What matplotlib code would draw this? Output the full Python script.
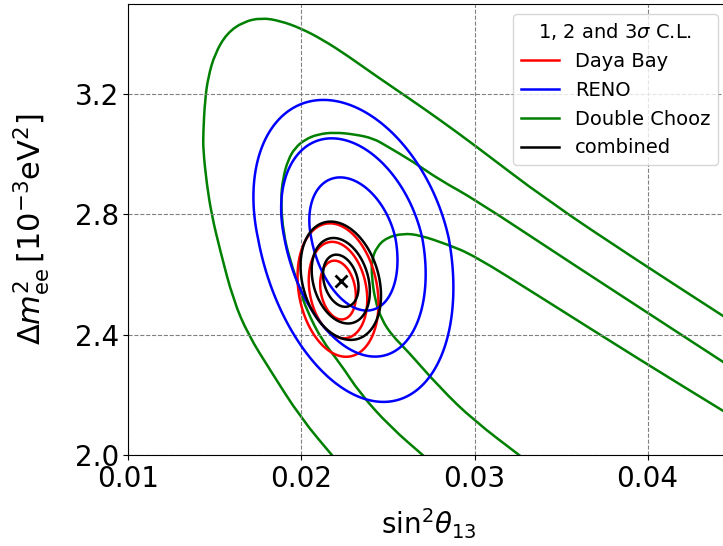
import numpy as np
import matplotlib.pyplot as plt
from matplotlib.lines import Line2D
from matplotlib.path import Path
from matplotlib.patches import PathPatch

# Best fit, 1 sigma widths and correlation: (sin^2 theta13, dm2_ee [1e-3 eV^2])
db_fit = [0.02211, 2.5485]
db_sigma = [0.00068, 0.0645]
db_rho = -0.20

# RENO: dm2 error is asymmetric (upper, lower)
reno_fit = [0.0230, 2.72]
reno_sigma_x = 0.00168
reno_sigma_y = [0.134, 0.158]
reno_rho = -0.30

comb_fit = [0.02227, 2.5795]
comb_sigma = [0.000676, 0.0572]
comb_rho = -0.25

# delta chi2 for 1, 2, 3 sigma with two parameters
levels = [2.30, 6.18, 11.83]

# Double Chooz allowed regions (open contours)
dc_1s_x = [0.0328, 0.02993, 0.02801, 0.02608, 0.02526, 0.02464, 0.02425, 0.02406,
           0.02406, 0.02435, 0.02492, 0.02588, 0.02685, 0.02839, 0.02993, 0.03379,
           0.03957, 0.0447]
dc_1s_y = [1.99, 2.116, 2.223, 2.349, 2.396, 2.449, 2.515, 2.593,
           2.648, 2.692, 2.723, 2.737, 2.731, 2.701, 2.665, 2.526,
           2.316, 2.135]

dc_2s_x = [0.0272, 0.02512, 0.02338, 0.02223, 0.02117, 0.02030, 0.01991, 0.01934,
           0.01895, 0.01880, 0.01893, 0.01922, 0.01962, 0.02020, 0.02095, 0.02194,
           0.02312, 0.02415, 0.02494, 0.02646, 0.02801, 0.02999, 0.03533, 0.0447]
dc_2s_y = [1.99, 2.094, 2.205, 2.305, 2.382, 2.482, 2.549, 2.648,
           2.737, 2.848, 2.921, 2.981, 3.021, 3.049, 3.067, 3.073,
           3.066, 3.053, 3.027, 2.975, 2.914, 2.851, 2.648, 2.297]

dc_3s_x = [0.0219, 0.01997, 0.01818, 0.01692, 0.01606, 0.01529, 0.01481, 0.01452,
           0.01432, 0.01432, 0.01442, 0.01461, 0.01500, 0.01568, 0.01664, 0.01770,
           0.01876, 0.01997, 0.02126, 0.02261, 0.02425, 0.02637, 0.02801, 0.02999,
           0.03417, 0.03938, 0.0447]
dc_3s_y = [1.99, 2.122, 2.283, 2.400, 2.515, 2.682, 2.798, 2.903,
           3.014, 3.069, 3.180, 3.258, 3.335, 3.402, 3.441, 3.454,
           3.444, 3.419, 3.380, 3.330, 3.263, 3.180, 3.114, 3.031,
           2.848, 2.648, 2.450]


def chi2(X, Y, fit, sx, sy, rho):
    u = (X - fit[0]) / sx
    v = (Y - fit[1]) / sy
    return (u**2 - 2 * rho * u * v + v**2) / (1 - rho**2)


def smooth_path(xs, ys):
    # quadratic bezier through the midpoints of the traced points
    pts = np.column_stack([xs, ys])
    verts = [pts[0], (pts[0] + pts[1]) / 2]
    codes = [Path.MOVETO, Path.LINETO]
    for i in range(1, len(pts) - 1):
        verts += [pts[i], (pts[i] + pts[i + 1]) / 2]
        codes += [Path.CURVE3, Path.CURVE3]
    verts.append(pts[-1])
    codes.append(Path.LINETO)
    return Path(verts, codes)


xg = np.linspace(0.005, 0.05, 700)
yg = np.linspace(1.8, 3.7, 700)
X, Y = np.meshgrid(xg, yg)

fig = plt.figure(figsize=(7.23, 5.46), dpi=100)
ax = fig.add_axes([0.1777, 0.1667, 0.8292, 0.826])

lw = 1.8
ax.contour(X, Y, chi2(X, Y, db_fit, db_sigma[0], db_sigma[1], db_rho),
           levels=levels, colors='red', linewidths=lw)
reno_sy = np.where(Y > reno_fit[1], reno_sigma_y[0], reno_sigma_y[1])
ax.contour(X, Y, chi2(X, Y, reno_fit, reno_sigma_x, reno_sy, reno_rho),
           levels=levels, colors='blue', linewidths=lw)
for xs, ys in [(dc_1s_x, dc_1s_y), (dc_2s_x, dc_2s_y), (dc_3s_x, dc_3s_y)]:
    ax.add_patch(PathPatch(smooth_path(xs, ys), fill=False, ec='green', lw=lw))
ax.contour(X, Y, chi2(X, Y, comb_fit, comb_sigma[0], comb_sigma[1], comb_rho),
           levels=levels, colors='black', linewidths=lw)
ax.plot(comb_fit[0], comb_fit[1], 'x', color='black', ms=8, mew=2)

ax.set_xlim(0.01, 0.04465)
ax.set_ylim(2.0, 3.5)
ax.set_xticks([0.01, 0.02, 0.03, 0.04])
ax.set_yticks([2.0, 2.4, 2.8, 3.2])
ax.tick_params(labelsize=20)
ax.grid(ls='--', color='gray')
ax.set_xlabel(r'$\mathrm{sin}^2\theta_{13}$', fontsize=20, labelpad=10)
ax.set_ylabel(r'$\mathit{\Delta} m^2_{\mathrm{ee}}\,[10^{-3}\mathrm{eV}^2]$', fontsize=22)
ax.yaxis.set_label_coords(-0.128, 0.5)

handles = [Line2D([], [], color='red', lw=lw),
           Line2D([], [], color='blue', lw=lw),
           Line2D([], [], color='green', lw=lw),
           Line2D([], [], color='black', lw=lw)]
names = ['Daya Bay', 'RENO', 'Double Chooz', 'combined']
ax.legend(handles, names, title=r'1, 2 and 3$\sigma$ C.L.', loc='upper right',
          fontsize=14, title_fontsize=14)

fig.savefig('out.png', dpi=100)
